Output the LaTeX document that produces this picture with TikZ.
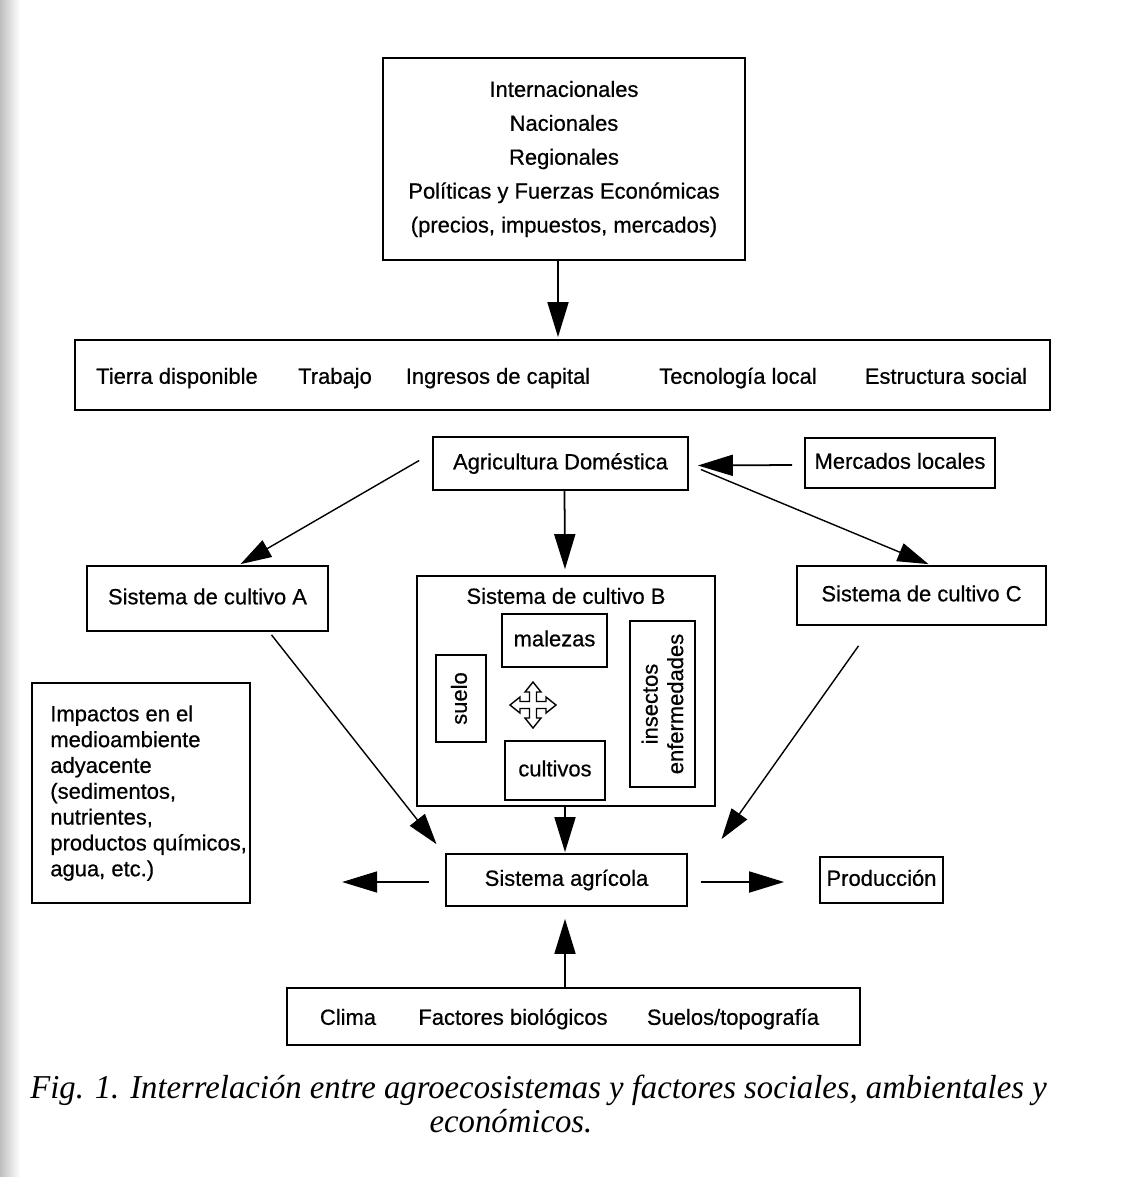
\documentclass[tikz,border=0pt]{standalone}
\usepackage{fontspec}
\setmainfont{Liberation Sans}[UprightFeatures={FakeBold=0.6}]
\newfontfamily\capfont{Liberation Serif}
\usetikzlibrary{arrows.meta,calc}
\begin{document}
\begin{tikzpicture}[x=0.02cm,y=-0.02cm,
  box/.style={draw,line width=1pt,inner sep=0pt},
  lbl/.style={inner sep=0pt,font=\fontsize{12.5}{15}\selectfont},
  one/.style={text height=9.2pt,text depth=2.6pt},
  arr/.style={line width=1pt,-{Triangle[length=0.7cm,width=0.42cm]}},
  darr/.style={line width=0.8pt,-{Triangle[length=0.62cm,width=0.38cm]}},
  captxt/.style={inner sep=0pt,font=\capfont\itshape\fontsize{19}{22}\selectfont}
]
\fill[white] (0,0) rectangle (1129,1177);
\shade[left color=gray!50,right color=white] (0,0) rectangle (20,1177);
\useasboundingbox (0,0) rectangle (1129,1177);

% top box
\node[box,lbl,minimum width=7.24cm,minimum height=4.04cm,align=center,
  font=\fontsize{12.5}{19.3}\selectfont] (top) at (564,159)
  {Internacionales\\Nacionales\\Regionales\\Políticas y Fuerzas Económicas\\(precios, impuestos, mercados)};

% row box
\node[box,minimum width=19.5cm,minimum height=1.4cm] (row) at (562.5,375) {};
\node[lbl,one] (r1) at (177,378) {Tierra disponible};
\node[lbl,one] (r2) at (335,378) {Trabajo};
\node[lbl,one] (r3) at (498,378) {Ingresos de capital};
\node[lbl,one] (r4) at (738,378) {Tecnología local};
\node[lbl,one] (r5) at (946,378) {Estructura social};

\node[box,lbl,one,minimum width=5.1cm,minimum height=1.06cm] (agri) at (560.5,463.5) {Agricultura Doméstica};
\node[box,lbl,one,minimum width=3.8cm,minimum height=1.0cm] (merc) at (900,463) {Mercados locales};

\node[box,lbl,one,minimum width=4.82cm,minimum height=1.3cm] (sa) at (207.5,598.5) {Sistema de cultivo A};
\node[box,minimum width=5.96cm,minimum height=4.6cm] (sb) at (566,691) {};
\node[lbl,one] (sbt) at (566,598) {Sistema de cultivo B};
\node[box,lbl,one,minimum width=4.98cm,minimum height=1.18cm] (sc) at (921.5,595.5) {Sistema de cultivo C};

\node[box,lbl,one,minimum width=2.1cm,minimum height=1.06cm] (mal) at (554.5,640.5) {malezas};
\node[box,minimum width=1.0cm,minimum height=1.74cm] (sue) at (461,698.5) {};
\node[lbl,one,rotate=90] (suet) at (461,698.5) {suelo};
\node[box,lbl,one,minimum width=2.0cm,minimum height=1.18cm] (cul) at (555,770.5) {cultivos};
\node[box,minimum width=1.3cm,minimum height=3.32cm] (ins) at (662.5,704) {};
\node[lbl,rotate=90,align=center,font=\fontsize{12.5}{14.5}\selectfont] (inst) at (662.5,704) {insectos\\enfermedades};

% four-way arrow
\draw[line width=0.8pt,fill=white,shift={(533,705)}]
 (0,-23) -- (8,-13) -- (3.5,-13) -- (3.5,-3.5) -- (13,-3.5) -- (13,-8) -- (23,0) -- (13,8) -- (13,3.5)
 -- (3.5,3.5) -- (3.5,13) -- (8,13) -- (0,23) -- (-8,13) -- (-3.5,13) -- (-3.5,3.5) -- (-13,3.5)
 -- (-13,8) -- (-23,0) -- (-13,-8) -- (-13,-3.5) -- (-3.5,-3.5) -- (-3.5,-13) -- (-8,-13) -- cycle;

\node[box,minimum width=4.36cm,minimum height=4.4cm] (imp) at (141,793) {};
\node[lbl,anchor=north west,align=left,font=\fontsize{12.5}{14.7}\selectfont] (impt) at (50,705)
 {Impactos en el\\medioambiente\\adyacente\\(sedimentos,\\nutrientes,\\productos químicos,\\agua, etc.)};

\node[box,lbl,one,minimum width=4.82cm,minimum height=1.04cm] (agric) at (566.5,880) {Sistema agrícola};
\node[box,lbl,one,minimum width=2.46cm,minimum height=0.92cm] (prod) at (881.5,880) {Producción};

\node[box,minimum width=11.46cm,minimum height=1.14cm] (bot) at (573.5,1016.5) {};
\node[lbl,one] (b1) at (348,1019) {Clima};
\node[lbl,one] (b2) at (513,1019) {Factores biológicos};
\node[lbl,one] (b3) at (733,1019) {Suelos/topografía};

% connectors
\draw[arr] ($(top.south)+(-6,0)$) -- ($(row.north)+(-4.5,-2)$);
\draw[darr] ($(agri.west)+(-13,-3)$) -- ($(sa.north)+(33,-1)$);
\draw[arr] ($(agri.south)+(4,0)$) -- ($(sb.north)+(-1,-6)$);
\draw[darr] ($(agri.east)+(12,6)$) -- ($(sc.north)+(7,-1)$);
\draw[arr] ($(merc.west)+(-12,2)$) -- ($(agri.east)+(9,2)$);
\draw[darr] ($(sa.south)+(64,3)$) -- ($(agric.north)+(-130,-9)$);
\draw[arr] ($(sb.south)+(-1,0)$) -- ($(agric.north)+(-1.5,-1)$);
\draw[darr] ($(sc.south)+(-63,20)$) -- ($(agric.north)+(155,-14)$);
\draw[arr] ($(agric.west)+(-16,2)$) -- ($(agric.west)+(-103,2)$);
\draw[arr] ($(agric.east)+(13,2)$) -- ($(prod.west)+(-35,2)$);
\draw[arr] ($(bot.north)+(-8.5,0)$) -- ($(agric.south)+(-1.5,12)$);

% caption
\node[captxt,anchor=base west] (cap1) at (30,1098) {\scalebox{0.98}[1]{Fig. 1. Interrelación entre agroecosistemas y factores sociales, ambientales y}};
\node[captxt,anchor=base] (cap2) at (511,1132) {\scalebox{0.98}[1]{económicos.}};
\end{tikzpicture}
\end{document}
